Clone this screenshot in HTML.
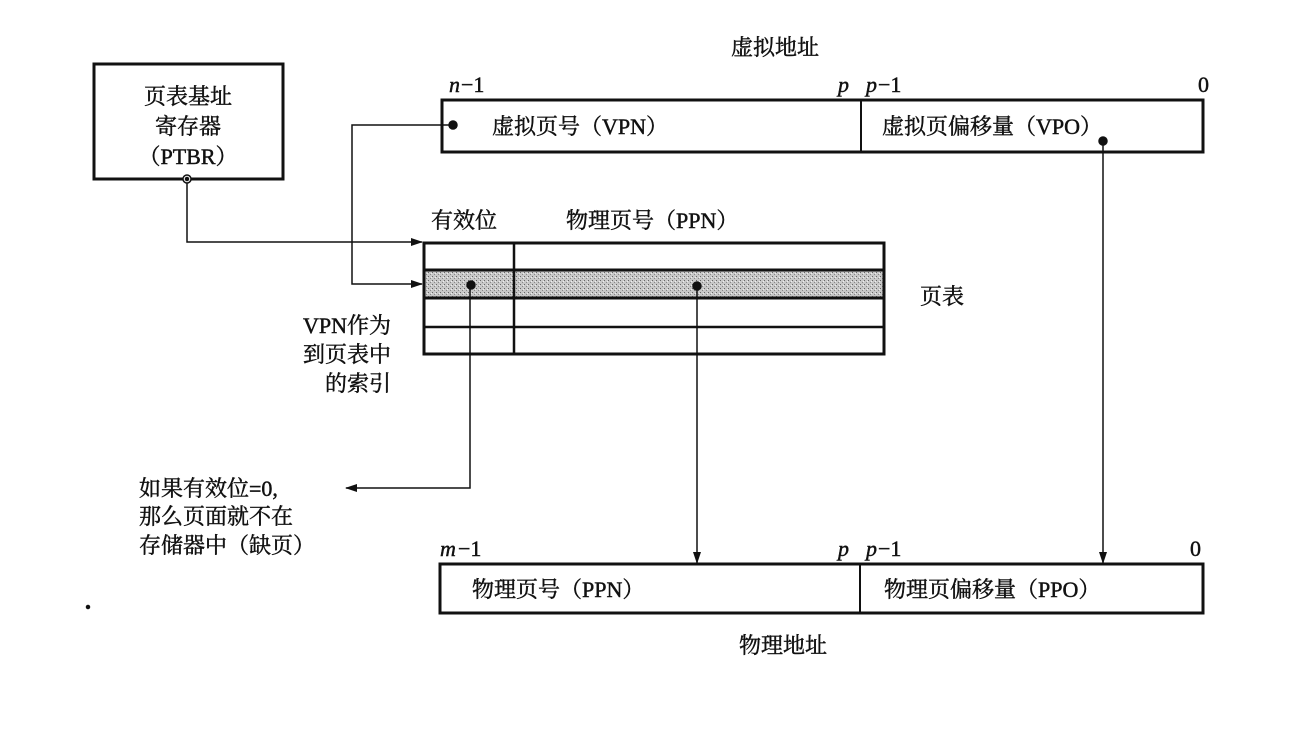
<!DOCTYPE html>
<html><head><meta charset="utf-8">
<style>
html,body{margin:0;padding:0;background:#fff;}
svg{display:block;}
text{font-family:"Liberation Serif","Noto Serif CJK SC",serif;font-size:22px;fill:#111;stroke:#111;stroke-width:0.45;}
.it{font-style:italic;}
</style></head>
<body>
<svg width="1313" height="731" viewBox="0 0 1313 731" xmlns="http://www.w3.org/2000/svg">
<defs>
<marker id="ar" markerWidth="12" markerHeight="8" refX="11" refY="4" orient="auto" markerUnits="userSpaceOnUse">
<path d="M0,0 L12,4 L0,8 Z" fill="#111"/>
</marker>
<pattern id="dots" width="4" height="4" patternUnits="userSpaceOnUse">
<rect width="4" height="4" fill="#c8c8c8"/>
<rect x="0" y="0" width="1" height="1" fill="#666"/>
<rect x="2" y="2" width="1" height="1" fill="#888"/>
<rect x="3" y="1" width="1" height="1" fill="#eee"/>
</pattern>
</defs>
<g stroke="#111" fill="none">
<rect x="94" y="64" width="189" height="115" stroke-width="3"/>
<rect x="442" y="100" width="761" height="52" stroke-width="3"/>
<line x1="861" y1="100" x2="861" y2="152" stroke-width="2"/>
<rect x="424" y="271" width="460" height="27" fill="url(#dots)" stroke="none"/>
<rect x="424" y="243" width="460" height="111" stroke-width="3"/>
<line x1="424" y1="270" x2="884" y2="270" stroke-width="3"/>
<line x1="424" y1="298" x2="884" y2="298" stroke-width="3"/>
<line x1="424" y1="327" x2="884" y2="327" stroke-width="2.5"/>
<line x1="514" y1="243" x2="514" y2="354" stroke-width="2.5"/>
<rect x="440" y="564" width="763" height="49" stroke-width="3"/>
<line x1="860" y1="564" x2="860" y2="613" stroke-width="2"/>
<polyline points="187,179 187,242 422,242" stroke-width="1.5" marker-end="url(#ar)"/>
<polyline points="452,125 352,125 352,284 422,284" stroke-width="1.5" marker-end="url(#ar)"/>
<polyline points="470,285 470,488 346,488" stroke-width="1.5" marker-end="url(#ar)"/>
<line x1="697" y1="286" x2="697" y2="563" stroke-width="1.5" marker-end="url(#ar)"/>
<line x1="1103" y1="142" x2="1103" y2="563" stroke-width="1.5" marker-end="url(#ar)"/>
</g>
<g fill="#111" stroke="#111" stroke-width="1.5">
<circle cx="187" cy="179" r="4" fill="#fff"/>
<circle cx="187" cy="179" r="1.5"/>
<circle cx="453" cy="125" r="4"/>
<circle cx="471" cy="285" r="4"/>
<circle cx="697" cy="286" r="4"/>
<circle cx="1103" cy="141" r="4"/>
<circle cx="88" cy="607" r="1.5"/>
</g>
<text x="775" y="55" text-anchor="middle">虚拟地址</text>
<text x="783" y="653" text-anchor="middle">物理地址</text>
<text x="188" y="104" text-anchor="middle">页表基址</text>
<text x="188" y="134" text-anchor="middle">寄存器</text>
<text x="188" y="164" text-anchor="middle">（PTBR）</text>
<text x="449" y="92" class="it">n</text><text x="461" y="92">−1</text>
<text x="838" y="92" class="it">p</text>
<text x="866" y="92" class="it">p</text><text x="878" y="92">−1</text>
<text x="1198" y="92">0</text>
<text x="492" y="134">虚拟页号（VPN）</text>
<text x="882" y="134">虚拟页偏移量（VPO）</text>
<text x="431" y="228">有效位</text>
<text x="566" y="228">物理页号（PPN）</text>
<text x="920" y="304">页表</text>
<text x="391" y="333" text-anchor="end">VPN作为</text>
<text x="391" y="362" text-anchor="end">到页表中</text>
<text x="391" y="391" text-anchor="end">的索引</text>
<text x="139" y="496">如果有效位=0,</text>
<text x="139" y="524">那么页面就不在</text>
<text x="139" y="553">存储器中（缺页）</text>
<text x="440" y="556" class="it">m</text><text x="458" y="556">−1</text>
<text x="838" y="556" class="it">p</text>
<text x="866" y="556" class="it">p</text><text x="878" y="556">−1</text>
<text x="1190" y="556">0</text>
<text x="472" y="597">物理页号（PPN）</text>
<text x="884" y="597">物理页偏移量（PPO）</text>
</svg>
</body></html>
